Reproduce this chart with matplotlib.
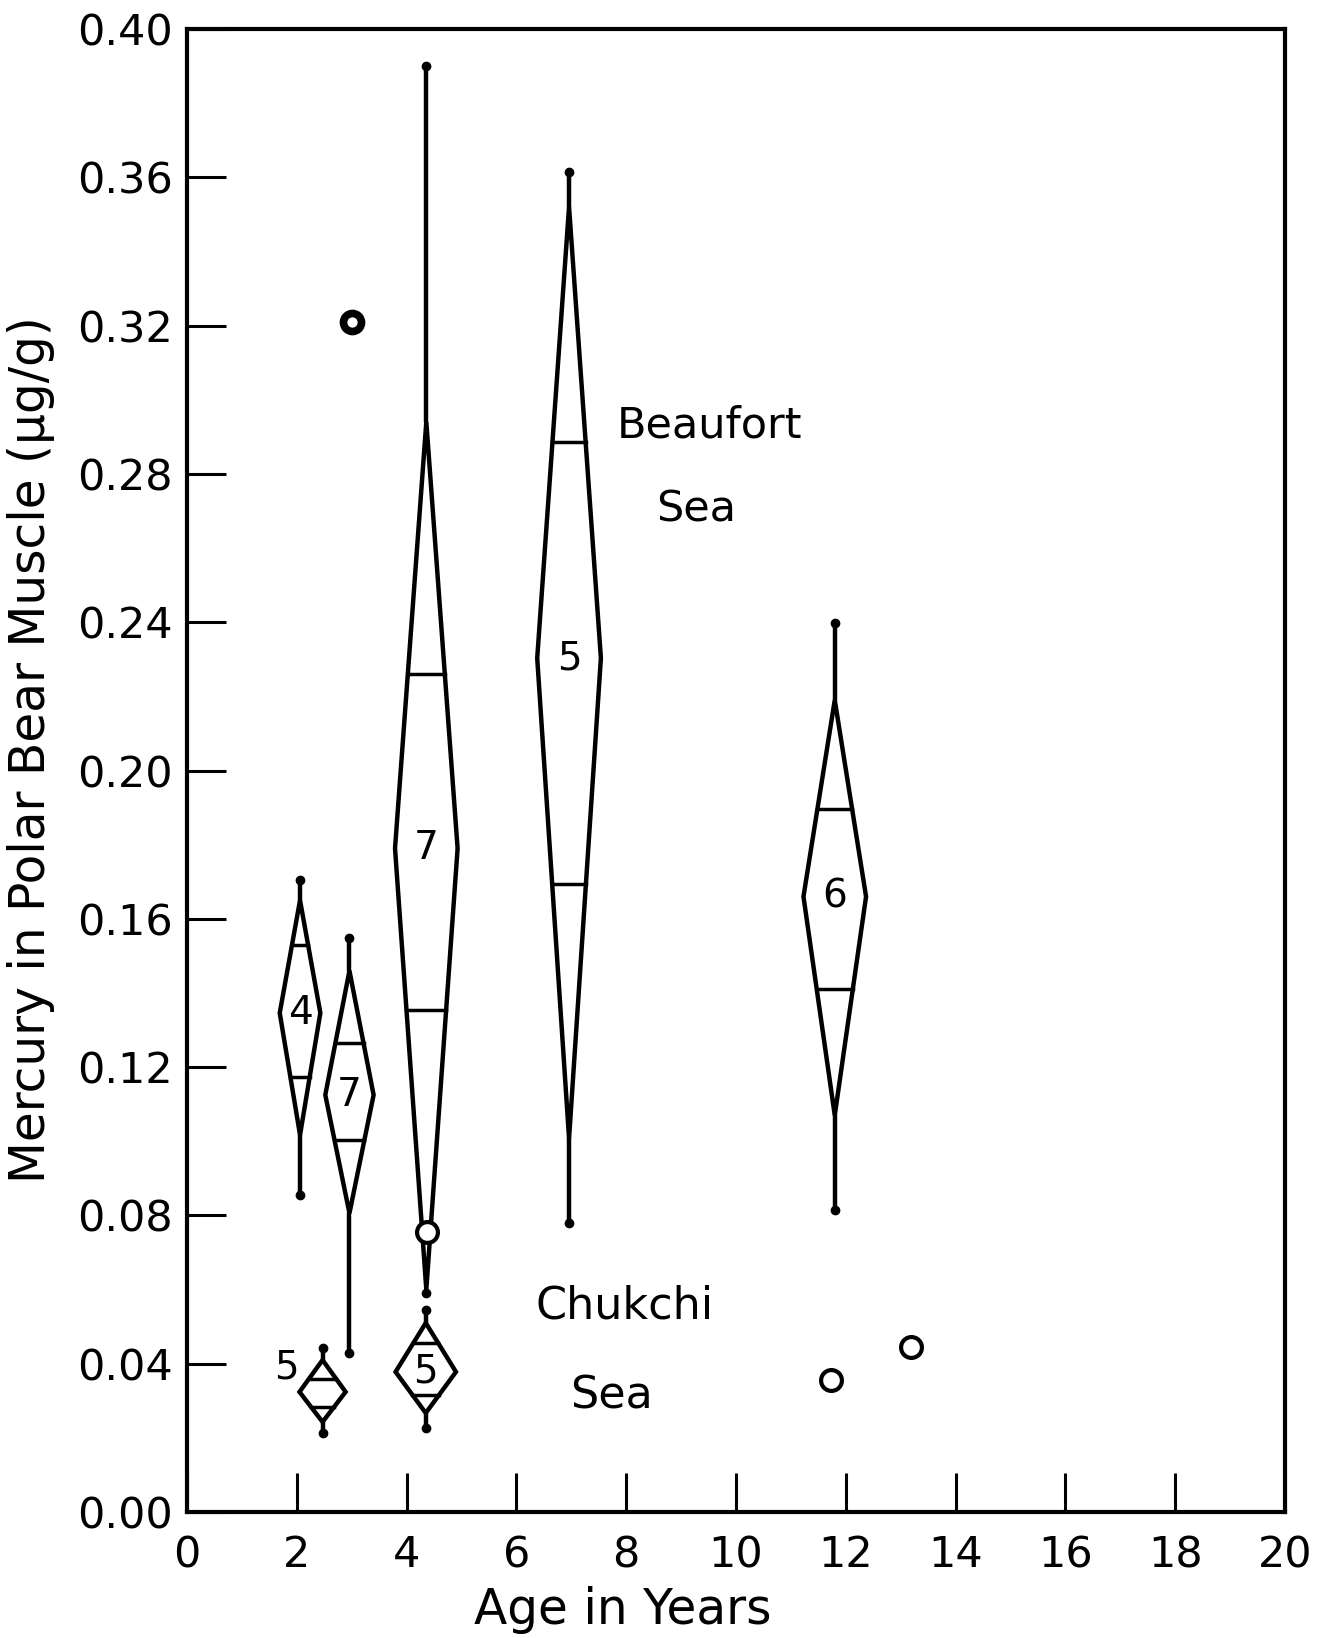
import matplotlib
matplotlib.use("Agg")
import matplotlib.pyplot as plt
from matplotlib.patches import Polygon

plt.rcParams['font.family'] = ['DejaVu Sans']

# ---- Data ----
# Beaufort Sea groups
beaufort_age   = [2.06, 2.96, 4.36, 6.96, 11.80]
beaufort_n     = [4, 7, 7, 5, 6]
beaufort_max   = [0.1706, 0.1548, 0.390, 0.3614, 0.2398]
beaufort_top   = [0.165, 0.146, 0.294, 0.352, 0.219]
beaufort_upper = [0.153, 0.1265, 0.226, 0.2887, 0.1895]
beaufort_mean  = [0.1346, 0.1125, 0.179, 0.2303, 0.166]
beaufort_lower = [0.1173, 0.1003, 0.1354, 0.1694, 0.141]
beaufort_bot   = [0.1017, 0.0806, 0.060, 0.1008, 0.107]
beaufort_min   = [0.0855, 0.0429, 0.059, 0.078, 0.0815]
beaufort_hw    = [0.37, 0.44, 0.57, 0.58, 0.57]

# Chukchi Sea groups
chukchi_age   = [2.47, 4.35]
chukchi_n     = [5, 5]
chukchi_max   = [0.0442, 0.0545]
chukchi_top   = [0.041, 0.051]
chukchi_upper = [0.036, 0.0455]
chukchi_mean  = [0.0324, 0.0378]
chukchi_lower = [0.0284, 0.0316]
chukchi_bot   = [0.0243, 0.0267]
chukchi_min   = [0.0213, 0.0226]
chukchi_hw    = [0.42, 0.55]
chukchi_label_pos = [(1.81, 0.039), (4.35, 0.0378)]

# single observations
open_age = [4.38, 11.74, 13.19]
open_val = [0.0755, 0.0356, 0.0445]
ring_age = [3.01]
ring_val = [0.321]

x_ticks = list(range(0, 21, 2))
y_ticks = [0.00, 0.04, 0.08, 0.12, 0.16, 0.20, 0.24, 0.28, 0.32, 0.36, 0.40]

LW = 3.2

fig = plt.figure(figsize=(13.24, 16.38), dpi=100)
ax = fig.add_axes([0.1412, 0.0769, 0.8293, 0.9054])
ax.set_xlim(0, 20)
ax.set_ylim(0, 0.40)


def draw_group(ax, x, vmax, top, up, mean, low, bot, vmin, hw):
    # whiskers
    ax.plot([x, x], [top, vmax], color='black', lw=LW, solid_capstyle='round', zorder=2)
    ax.plot([x, x], [vmin, bot], color='black', lw=LW, solid_capstyle='round', zorder=2)
    ax.plot([x, x], [vmax, vmin], ls='none', marker='o', ms=6, color='black', zorder=3)
    # diamond
    poly = Polygon([(x, top), (x + hw, mean), (x, bot), (x - hw, mean)], closed=True,
                   fill=False, edgecolor='black', lw=LW, joinstyle='miter', zorder=2)
    ax.add_patch(poly)
    # bars
    wu = hw * (top - up) / (top - mean)
    wl = hw * (low - bot) / (mean - bot)
    ax.plot([x - wu, x + wu], [up, up], color='black', lw=2.5, zorder=2)
    ax.plot([x - wl, x + wl], [low, low], color='black', lw=2.5, zorder=2)


for i in range(len(beaufort_age)):
    draw_group(ax, beaufort_age[i], beaufort_max[i], beaufort_top[i], beaufort_upper[i],
               beaufort_mean[i], beaufort_lower[i], beaufort_bot[i], beaufort_min[i],
               beaufort_hw[i])
    ax.text(beaufort_age[i], beaufort_mean[i], str(beaufort_n[i]), ha='center', va='center',
            fontsize=28, zorder=4)

for i in range(len(chukchi_age)):
    draw_group(ax, chukchi_age[i], chukchi_max[i], chukchi_top[i], chukchi_upper[i],
               chukchi_mean[i], chukchi_lower[i], chukchi_bot[i], chukchi_min[i],
               chukchi_hw[i])
    lx, ly = chukchi_label_pos[i]
    ax.text(lx, ly, str(chukchi_n[i]), ha='center', va='center', fontsize=28, zorder=4)

ax.plot(open_age, open_val, ls='none', marker='o', ms=15, mfc='white', mec='black',
        mew=3.0, zorder=5)
ax.plot(ring_age, ring_val, ls='none', marker='o', ms=13, mfc='white', mec='black',
        mew=5.5, zorder=5)

# region labels
ax.text(9.52, 0.293, "Beaufort", ha='center', va='center', fontsize=31)
ax.text(9.28, 0.2705, "Sea", ha='center', va='center', fontsize=31)
ax.text(7.98, 0.0556, "Chukchi", ha='center', va='center', fontsize=32)
ax.text(7.74, 0.0313, "Sea", ha='center', va='center', fontsize=32)

# axes styling
for s in ax.spines.values():
    s.set_linewidth(3)
ax.set_xticks(x_ticks)
ax.set_xticklabels([str(t) for t in x_ticks])
ax.set_yticks(y_ticks)
ax.set_yticklabels([f"{t:.2f}" for t in y_ticks])
ax.tick_params(axis='both', direction='in', length=28, width=2.2, labelsize=31)
ax.tick_params(axis='x', pad=16)
ax.tick_params(axis='y', pad=10)

ax.set_xlabel("Age in Years", fontsize=35)
ax.xaxis.set_label_coords(0.397, -0.050)
ax.set_ylabel("Mercury in Polar Bear Muscle (μg/g)", fontsize=35)
ax.yaxis.set_label_coords(-0.120, 0.514)

fig.savefig("out.png", dpi=100, facecolor='white')
